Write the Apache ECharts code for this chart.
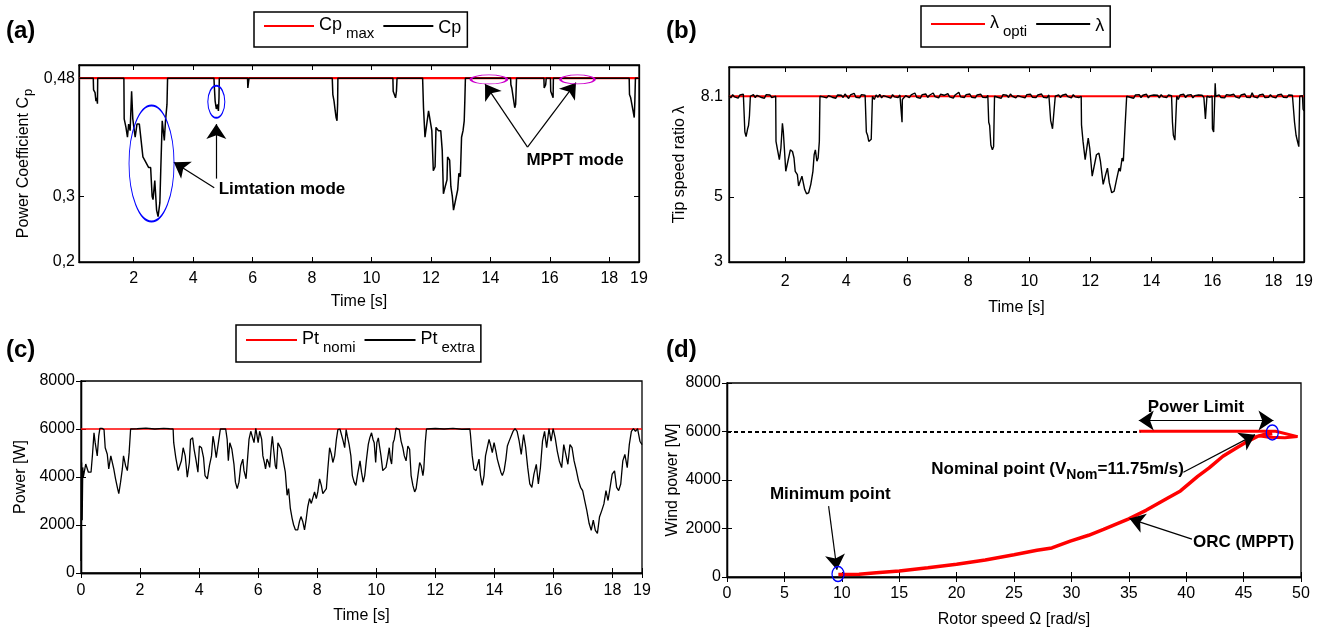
<!DOCTYPE html>
<html>
<head>
<meta charset="utf-8">
<script src="https://cdn.jsdelivr.net/npm/echarts@6/dist/echarts.min.js"></script>
<style>
html,body{margin:0;padding:0;background:#fff;}
#chart{width:1318px;height:629px;}
</style>
</head>
<body>
<div id="chart"></div>
<script>
// tick labels
const timeTicks = [2, 4, 6, 8, 10, 12, 14, 16, 18, 19];
const timeTicksC = [0, 2, 4, 6, 8, 10, 12, 14, 16, 18, 19];
const cpTicks = [0.2, 0.3, 0.48];
const lambdaTicks = [3, 5, 8.1];
const powerTicks = [0, 2000, 4000, 6000, 8000];
const omegaTicks = [0, 5, 10, 15, 20, 25, 30, 35, 40, 45, 50];

// reference levels
const cpMax = 0.48;
const lambdaOpt = 8.1;
const pNom = 6000;

// (a) power coefficient [t, Cp]
const cpData = [
  [0.16,0.48],[0.64,0.48],[0.65,0.462],[0.70,0.458],[0.73,0.445],[0.76,0.45],[0.78,0.441],[0.79,0.48],
  [1.67,0.48],[1.68,0.418],[1.74,0.405],[1.79,0.39],[1.83,0.41],[1.88,0.40],[1.93,0.46],[1.97,0.418],
  [2.02,0.40],[2.05,0.39],[2.11,0.41],[2.19,0.41],[2.25,0.41],[2.31,0.36],[2.37,0.355],[2.42,0.355],
  [2.50,0.344],[2.57,0.344],[2.62,0.30],[2.65,0.295],[2.71,0.324],[2.77,0.279],[2.82,0.269],[2.88,0.29],
  [2.91,0.339],[2.96,0.415],[3.03,0.385],[3.07,0.415],[3.12,0.44],[3.14,0.48],
  [4.70,0.48],[4.71,0.47],[4.74,0.445],[4.78,0.433],[4.82,0.44],[4.85,0.43],[4.87,0.45],[4.88,0.48],
  [5.83,0.48],[5.84,0.465],[5.87,0.468],[5.88,0.48],
  [8.68,0.48],[8.70,0.455],[8.74,0.445],[8.78,0.43],[8.81,0.42],[8.84,0.415],[8.86,0.44],[8.87,0.48],
  [10.72,0.48],[10.73,0.46],[10.77,0.455],[10.81,0.45],[10.84,0.46],[10.86,0.48],
  [11.72,0.48],[11.75,0.435],[11.80,0.39],[11.86,0.388],[11.92,0.43],[11.97,0.433],[12.03,0.40],
  [12.08,0.339],[12.14,0.345],[12.17,0.405],[12.25,0.40],[12.33,0.40],[12.38,0.37],[12.42,0.304],
  [12.48,0.315],[12.54,0.325],[12.56,0.36],[12.63,0.355],[12.67,0.315],[12.72,0.30],[12.76,0.279],
  [12.82,0.282],[12.90,0.31],[12.94,0.335],[12.99,0.33],[13.03,0.39],[13.08,0.40],[13.12,0.415],
  [13.14,0.445],[13.16,0.48],
  [14.68,0.48],[14.69,0.47],[14.72,0.465],[14.77,0.45],[14.82,0.435],[14.85,0.44],[14.88,0.48],
  [15.80,0.48],[15.81,0.465],[15.86,0.47],[15.88,0.48],
  [16.02,0.48],[16.03,0.46],[16.07,0.455],[16.11,0.45],[16.12,0.48],
  [18.67,0.48],[18.68,0.455],[18.72,0.45],[18.76,0.44],[18.80,0.43],[18.84,0.42],[18.86,0.445],
  [18.88,0.48],[19,0.48]
];

// (b) tip speed ratio [t, lambda]
const lambdaData = [
  [0.16,8.12],[0.22,8.05],[0.28,8.15],[0.34,8.08],[0.40,8.13],[0.46,8.04],[0.52,8.14],[0.58,8.09],[0.63,8.16],
  [0.67,8.1],[0.68,7.0],[0.72,6.86],[0.77,7.1],[0.80,7.2],[0.83,7.5],[0.86,8.1],
  [0.90,8.08],[0.96,8.15],[1.02,8.06],[1.08,8.13],[1.14,8.18],[1.20,8.07],[1.26,8.12],[1.32,8.04],
  [1.38,8.15],[1.44,8.09],[1.50,8.14],[1.56,8.06],[1.62,8.12],
  [1.69,8.1],[1.70,6.71],[1.75,6.45],[1.81,6.15],[1.86,6.5],[1.91,7.27],[1.94,7.01],[1.98,6.4],
  [2.02,5.79],[2.09,6.1],[2.17,6.45],[2.24,6.4],[2.29,6.2],[2.33,5.79],[2.40,5.69],[2.44,5.34],
  [2.50,5.28],[2.55,5.64],[2.60,5.59],[2.64,5.23],[2.70,5.10],[2.77,5.13],[2.84,5.39],[2.91,5.79],
  [2.95,6.3],[2.99,6.45],[3.04,6.1],[3.08,6.2],[3.12,6.71],[3.14,8.1],
  [3.18,8.16],[3.24,8.08],[3.30,8.13],[3.36,8.05],[3.42,8.12],[3.48,8.17],[3.54,8.07],[3.60,8.11],
  [3.66,8.04],[3.72,8.14],[3.78,8.09],[3.84,8.13],[3.90,8.06],[3.96,8.17],[4.02,8.1],[4.08,8.03],
  [4.14,8.14],[4.20,8.08],[4.26,8.19],[4.32,8.07],[4.38,8.12],[4.44,8.05],[4.50,8.15],[4.56,8.09],[4.62,8.13],
  [4.65,8.1],[4.66,7.0],[4.70,6.9],[4.74,6.71],[4.79,6.75],[4.82,6.78],[4.86,8.1],
  [4.92,8.0],[4.98,8.14],[5.04,8.07],[5.10,8.16],[5.16,8.05],[5.22,8.12],[5.28,8.18],[5.34,8.08],
  [5.40,8.13],[5.46,8.04],[5.52,8.15],[5.58,8.08],[5.64,8.12],[5.70,8.06],[5.76,8.14],[5.80,8.1],
  [5.82,8.1],[5.83,7.3],[5.84,8.0],
  [5.86,8.05],[5.90,7.95],[5.95,8.12],[6.01,8.18],[6.07,8.06],[6.13,8.14],[6.19,8.08],[6.25,8.2],
  [6.31,8.07],[6.37,8.13],[6.43,8.04],[6.49,8.15],[6.55,8.1],[6.61,8.17],[6.67,8.06],[6.73,8.13],
  [6.79,8.08],[6.85,8.2],[6.91,8.09],[6.97,8.14],[7.03,8.05],[7.09,8.16],[7.15,8.1],[7.21,8.13],
  [7.27,8.07],[7.33,8.18],[7.39,8.08],[7.45,8.12],[7.51,8.04],[7.57,8.14],[7.63,8.09],[7.69,8.22],
  [7.75,8.08],[7.81,8.13],[7.87,8.06],[7.93,8.15],[7.99,8.1],[8.05,8.17],[8.11,8.07],[8.17,8.12],
  [8.23,8.05],[8.29,8.14],[8.35,8.09],[8.41,8.16],[8.47,8.07],[8.53,8.12],[8.59,8.06],[8.64,8.13],
  [8.66,8.1],[8.67,7.3],[8.70,7.2],[8.74,6.6],[8.79,6.45],[8.83,6.55],[8.86,8.1],
  [8.90,8.14],[8.96,8.07],[9.02,8.12],[9.08,8.04],[9.14,8.15],[9.20,8.09],[9.26,8.13],[9.32,8.06],
  [9.38,8.17],[9.44,8.1],[9.50,8.14],[9.56,8.05],[9.62,8.12],[9.68,8.18],[9.74,8.08],[9.80,8.13],
  [9.86,8.05],[9.92,8.15],[9.98,8.09],[10.04,8.16],[10.10,8.07],[10.16,8.13],[10.22,8.06],[10.28,8.14],
  [10.34,8.08],[10.40,8.17],[10.46,8.07],[10.52,8.12],[10.58,8.05],[10.64,8.14],
  [10.69,8.1],[10.70,7.35],[10.76,7.1],[10.82,7.06],[10.85,8.1],
  [10.90,8.08],[10.96,8.14],[11.02,8.06],[11.08,8.13],[11.14,8.07],[11.20,8.16],[11.26,8.09],
  [11.32,8.13],[11.38,8.05],[11.44,8.15],[11.50,8.08],[11.56,8.12],[11.62,8.06],[11.67,8.11],
  [11.70,8.1],[11.71,7.22],[11.76,6.71],[11.83,6.15],[11.93,6.81],[11.98,6.5],[12.06,5.64],[12.11,5.69],
  [12.20,6.3],[12.28,6.35],[12.33,6.1],[12.42,5.39],[12.50,5.69],[12.56,5.89],[12.62,5.44],[12.70,5.13],
  [12.78,5.18],[12.86,5.54],[12.94,5.89],[12.98,5.79],[13.04,6.2],[13.08,6.1],[13.14,7.22],[13.19,8.1],
  [13.24,8.16],[13.30,8.07],[13.36,8.12],[13.42,8.04],[13.48,8.14],[13.54,8.09],[13.60,8.15],[13.66,8.06],
  [13.72,8.13],[13.78,8.08],[13.84,8.16],[13.90,8.05],[13.96,8.12],[14.02,8.07],[14.08,8.14],[14.14,8.09],
  [14.20,8.13],[14.26,8.05],[14.32,8.15],[14.38,8.08],[14.44,8.12],[14.50,8.06],[14.56,8.14],[14.62,8.09],[14.66,8.12],
  [14.68,8.1],[14.69,7.3],[14.72,6.9],[14.77,6.75],[14.81,6.8],[14.83,8.1],
  [14.88,8.0],[14.94,8.14],[15.00,8.08],[15.06,8.16],[15.12,8.06],[15.18,8.13],[15.24,8.09],[15.30,8.15],
  [15.36,8.05],[15.42,8.12],[15.48,8.07],[15.54,8.14],[15.60,8.09],[15.66,8.13],[15.72,8.06],
  [15.76,8.1],[15.77,7.4],[15.81,7.35],[15.82,8.1],
  [15.86,8.12],[15.92,8.07],[15.97,8.13],
  [15.99,8.1],[16.0,7.1],[16.04,7.0],[16.08,7.05],[16.09,8.5],[16.11,8.1],
  [16.16,8.08],[16.22,8.14],[16.28,8.06],[16.34,8.12],[16.40,8.05],[16.46,8.15],[16.52,8.09],[16.58,8.13],
  [16.64,8.07],[16.70,8.16],[16.76,8.08],[16.82,8.12],[16.88,8.04],[16.94,8.14],[17.00,8.09],[17.06,8.17],
  [17.12,8.07],[17.18,8.13],[17.24,8.06],[17.30,8.21],[17.36,8.08],[17.42,8.13],[17.48,8.05],[17.54,8.14],
  [17.60,8.09],[17.66,8.16],[17.72,8.06],[17.78,8.12],[17.84,8.07],[17.90,8.15],[17.96,8.08],[18.02,8.13],
  [18.08,8.05],[18.14,8.14],[18.20,8.09],[18.26,8.16],[18.32,8.07],[18.38,8.12],[18.44,8.06],[18.50,8.14],
  [18.56,8.08],[18.62,8.13],
  [18.67,8.1],[18.69,7.3],[18.74,6.9],[18.79,6.7],[18.83,6.55],[18.86,8.1],[18.90,8.16],[18.95,8.12],
  [18.97,7.7],[19,7.65]
];

// (c) extracted power [t, W]
const powerData = [
  [0,500],[0.02,4600],[0.04,2200],[0.06,4400],[0.08,4000],[0.11,4200],[0.16,4540],[0.25,4200],[0.34,4200],
  [0.39,4950],[0.44,5840],[0.48,5430],[0.55,4880],[0.60,5700],[0.64,6030],[0.71,6030],[0.78,5975],
  [0.82,5220],[0.89,4950],[0.94,4335],[1.01,4880],[1.05,4950],[1.11,4335],[1.17,3925],[1.24,3515],
  [1.28,3310],[1.34,3785],[1.40,4335],[1.44,4880],[1.51,4470],[1.57,4265],[1.63,5015],[1.68,6000],
  [1.9,6010],[2.2,6040],[2.5,6000],[2.8,6030],[3.0,6010],[3.12,6000],
  [3.14,5430],[3.21,4810],[3.29,4265],[3.34,4265],[3.40,4675],[3.46,5220],[3.53,4880],[3.60,3990],
  [3.67,4605],[3.71,5565],[3.78,5630],[3.83,5155],[3.89,4745],[3.96,4200],[4.01,5290],[4.08,5220],
  [4.15,4810],[4.20,4060],[4.28,3925],[4.35,4470],[4.42,4880],[4.47,5700],[4.51,5430],[4.58,4810],
  [4.63,4745],[4.67,5565],[4.72,6000],[4.81,6000],[4.90,6000],[4.95,5565],[4.99,4675],[5.04,5430],
  [5.11,5155],[5.18,4540],[5.23,3785],[5.29,3515],[5.35,3785],[5.41,4470],[5.48,4745],[5.52,4265],
  [5.59,3925],[5.64,4745],[5.69,5565],[5.75,5905],[5.81,5840],[5.86,5430],[5.92,6030],[5.96,5975],
  [6.00,5430],[6.05,5905],[6.09,5975],[6.12,5565],[6.16,4880],[6.21,4605],[6.25,4335],[6.30,4745],
  [6.35,4605],[6.39,4400],[6.44,5220],[6.48,5700],[6.53,5085],[6.58,4470],[6.62,4335],[6.67,5430],
  [6.72,5430],[6.78,5155],[6.84,4745],
  [6.92,4200],[6.98,3240],[7.03,3515],[7.09,2690],[7.15,2280],[7.20,2010],[7.26,1800],[7.34,1800],
  [7.40,2150],[7.45,2350],[7.51,2150],[7.57,1800],[7.63,2280],[7.68,2760],[7.74,3100],[7.80,2900],
  [7.85,2900],[7.91,3380],[7.97,3100],[8.02,3380],[8.08,3925],[8.14,3650],[8.19,3310],[8.25,3310],
  [8.31,3515],[8.36,4335],[8.42,5220],[8.48,4950],[8.53,4605],[8.59,4880],[8.65,5565],[8.70,5975],
  [8.77,6000],[8.82,6040],[8.88,5495],[8.93,5220],[8.98,5975],[9.02,5700],[9.08,5360],[9.14,4880],
  [9.19,4060],[9.25,3785],[9.31,3650],[9.36,4060],[9.42,4470],[9.45,4675],[9.50,4200],[9.56,3785],
  [9.61,4060],[9.67,4745],[9.73,5360],[9.78,5630],[9.84,5840],[9.89,5565],[9.93,5430],[9.98,4605],
  [10.02,5430],[10.07,5630],[10.11,5290],[10.16,4880],[10.22,4265],[10.27,4200],[10.33,4400],
  [10.39,4810],[10.44,5220],[10.48,4745],[10.52,4540],[10.57,5430],[10.61,5565],[10.67,6040],
  [10.73,6000],[10.78,5975],[10.84,5495],[10.90,5220],[10.95,4880],[11.01,4675],[11.07,5290],
  [11.13,5155],[11.18,4060],[11.24,3650],[11.30,3380],[11.35,3515],[11.41,4060],[11.47,4605],
  [11.52,4470],[11.58,4060],[11.61,4335],[11.66,5430],[11.70,6000],
  [12.0,6020],[12.3,6000],[12.6,6030],[12.9,5990],[13.17,6000],
  [13.19,5770],[13.25,4880],[13.31,4335],[13.38,4265],[13.42,4265],[13.48,4745],[13.53,4060],
  [13.59,3650],[13.65,4060],[13.70,4880],[13.76,5220],[13.82,5565],[13.88,5290],[13.93,5015],
  [13.99,5430],[14.05,5085],[14.10,4745],[14.16,4470],[14.22,4200],[14.27,4060],[14.33,4265],
  [14.39,4745],[14.44,5290],[14.50,5495],
  [14.63,5900],[14.70,6020],[14.77,5900],[14.84,5490],[14.91,4940],[14.99,5770],[15.06,5220],
  [15.13,4390],[15.20,3710],[15.27,3570],[15.34,4120],[15.42,4530],[15.49,3710],[15.56,4390],
  [15.63,5490],[15.70,5900],[15.77,5220],[15.85,6020],[15.92,5490],[15.99,6020],[16.06,5630],
  [16.13,5080],[16.20,4670],[16.28,4390],[16.35,5350],[16.42,4940],[16.49,4530],[16.56,5350],
  [16.63,5220],[16.70,4670],[16.78,4260],[16.85,3840],[16.92,3570],[16.99,3430],[17.06,3020],
  [17.13,2610],[17.21,2060],[17.28,1780],[17.35,2200],[17.42,1780],[17.49,1650],[17.56,2330],
  [17.64,2610],[17.71,2880],[17.78,3430],[17.85,3020],[17.92,3570],[17.99,4120],[18.07,4260],
  [18.14,3570],[18.21,3430],[18.28,3710],[18.35,4670],[18.42,4940],[18.50,4390],[18.57,5350],
  [18.64,5900],[18.71,6020],[18.78,5900],[18.85,6020],[18.93,5490],[19.0,5350]
];

// (d) wind power vs rotor speed [omega, W]
const orcData = [
  [9.7,100],[11.5,110],[13,180],[15,250],[17.5,380],[20,530],[22.5,700],[25,920],[27,1100],
  [28.3,1200],[29.9,1480],[31.5,1720],[32.8,1960],[34,2200],[35,2400],[36.5,2750],[38.4,3260],
  [39.5,3550],[41,4150],[42,4500],[43.2,4980],[44.3,5300],[45.1,5530],[46.2,5800],[47.3,5940]
];
const limitData = [
  [35.9,6010],[47.8,6010],[49.7,5790],[48.6,5740],[47.2,5760],[46.3,5820],[47.5,5900]
];

const font = "'Liberation Sans', Arial, sans-serif";

const grids = [
  {left: 79, top: 65, width: 560, height: 197},
  {left: 729, top: 67, width: 575, height: 195},
  {left: 81, top: 381, width: 561, height: 192},
  {left: 727, top: 383, width: 574, height: 195}
];

function axisPair(dir, gi, min, max, ticks, name, nameGap, margin, fmt, nameRich) {
  const base = {
    type: 'value', gridIndex: gi, min: min, max: max,
    splitLine: {show: false},
    axisLine: {lineStyle: {color: '#000', width: 1.3}},
    axisTick: {inside: true, length: 5, customValues: ticks, lineStyle: {color: '#000', width: 1}}
  };
  const main = Object.assign({}, base, {
    position: dir === 'x' ? 'bottom' : 'left',
    name: name, nameLocation: 'middle', nameGap: nameGap,
    nameTextStyle: {fontSize: 16, fontFamily: font, color: '#000', rich: nameRich || {}},
    axisLabel: {customValues: ticks, fontSize: 16, fontFamily: font, color: '#000', margin: margin,
      formatter: fmt || (v => String(v))}
  });
  const other = Object.assign({}, base, {
    position: dir === 'x' ? 'top' : 'right',
    axisLabel: {show: false}
  });
  return [main, other];
}

const subRich = {
  n: {fontSize: 16, fontFamily: font, color: '#000'},
  s: {fontSize: 13, fontFamily: font, color: '#000', padding: [9, 0, 0, 1]}
};

const xAxis = [].concat(
  axisPair('x', 0, 0.16, 19, timeTicks, 'Time [s]', 32, 9),
  axisPair('x', 1, 0.16, 19, timeTicks, 'Time [s]', 38, 12),
  axisPair('x', 2, 0, 19, timeTicksC, 'Time [s]', 35, 10),
  axisPair('x', 3, 0, 50, omegaTicks, 'Rotor speed Ω [rad/s]', 35, 9)
);
const yAxis = [].concat(
  axisPair('y', 0, 0.2, 0.5, cpTicks, '{n|Power Coefficient C}{s|p}', 44, 4,
    v => String(v).replace('.', ','), subRich),
  axisPair('y', 1, 3, 9, lambdaTicks, 'Tip speed ratio λ', 41, 6),
  axisPair('y', 2, 0, 8000, powerTicks, 'Power [W]', 52, 6),
  axisPair('y', 3, 0, 8000, powerTicks, 'Wind power [W]', 46, 6)
);

const legendNames = {
  Cpmax: '{n|Cp}{s|max}', Cp: '{n|Cp}',
  lopt: '{n|λ}{s|opti}', l: '{n|λ}',
  Ptnomi: '{n|Pt}{s|nomi}', Ptextra: '{n|Pt}{s|extra}'
};
function legendAt(names, left, top, itemWidth, pad) {
  return {
    data: names, left: left, top: top, orient: 'horizontal',
    icon: 'rect', itemWidth: itemWidth, itemHeight: 2, itemGap: 9,
    padding: pad, borderColor: '#000', borderWidth: 1.5,
    selectedMode: false,
    formatter: n => legendNames[n],
    textStyle: {
      color: '#000', fontFamily: font,
      rich: {
        n: {fontSize: 18, fontFamily: font, color: '#000', verticalAlign: 'top', padding: [5, 0, 0, 0]},
        s: {fontSize: 15, fontFamily: font, color: '#000', verticalAlign: 'top', padding: [15, 0, 0, 4]}
      }
    }
  };
}

const clear = 'rgba(0,0,0,0)';
function ring(coord, size, color) {
  return {coord: coord, symbol: 'circle', symbolSize: size,
    itemStyle: {color: clear, borderColor: color, borderWidth: 1.4}, label: {show: false}};
}
function note(coord, text, size) {
  return {coord: coord, symbol: 'rect', symbolSize: 1, itemStyle: {color: clear},
    label: {show: true, position: 'inside', formatter: text, fontSize: size || 17,
      fontWeight: 'bold', fontFamily: font, color: '#000',
      rich: {
        b: {fontSize: 17, fontWeight: 'bold', fontFamily: font, color: '#000'},
        sub: {fontSize: 14, fontWeight: 'bold', fontFamily: font, color: '#000', padding: [12, 0, 0, 0]}
      }}};
}
function arrow(from, to, both) {
  return [{coord: from, symbol: both ? 'arrow' : 'none'}, {coord: to, symbol: 'arrow'}];
}

const series = [
  {name: 'Cpmax', type: 'line', xAxisIndex: 0, yAxisIndex: 0, symbol: 'none', silent: true,
    data: [[0.16, cpMax], [19, cpMax]], lineStyle: {color: '#ff0000', width: 2.2}, itemStyle: {color: '#ff0000'}},
  {name: 'Cp', type: 'line', xAxisIndex: 0, yAxisIndex: 0, symbol: 'none', silent: true,
    data: cpData, lineStyle: {color: '#000', width: 1.5}, itemStyle: {color: '#000'},
    markPoint: {silent: true, animation: false, data: [
      ring([2.6, 0.35], [45, 116], '#0000ff'),
      ring([4.78, 0.444], [17, 32], '#0000ff'),
      ring([13.95, 0.478], [36, 9], '#cc00cc'),
      ring([16.93, 0.478], [34, 9], '#cc00cc'),
      note([6.99, 0.311], 'Limtation mode'),
      note([16.85, 0.355], 'MPPT mode')
    ]},
    markLine: {silent: true, animation: false, symbolSize: 15, label: {show: false},
      lineStyle: {color: '#000', width: 1.2, type: 'solid'},
      data: [
        arrow([4.71, 0.313], [3.35, 0.352]),
        arrow([4.78, 0.327], [4.78, 0.41]),
        arrow([15.25, 0.375], [13.82, 0.471]),
        arrow([15.25, 0.375], [16.88, 0.473])
      ]}
  },
  {name: 'lopt', type: 'line', xAxisIndex: 2, yAxisIndex: 2, symbol: 'none', silent: true,
    data: [[0.16, lambdaOpt], [19, lambdaOpt]], lineStyle: {color: '#ff0000', width: 2}, itemStyle: {color: '#ff0000'}},
  {name: 'l', type: 'line', xAxisIndex: 2, yAxisIndex: 2, symbol: 'none', silent: true,
    data: lambdaData, lineStyle: {color: '#000', width: 1.4}, itemStyle: {color: '#000'}},
  {name: 'Ptnomi', type: 'line', xAxisIndex: 4, yAxisIndex: 4, symbol: 'none', silent: true,
    data: [[0, pNom], [19, pNom]], lineStyle: {color: '#ff0000', width: 1.6}, itemStyle: {color: '#ff0000'}},
  {name: 'Ptextra', type: 'line', xAxisIndex: 4, yAxisIndex: 4, symbol: 'none', silent: true,
    data: powerData, lineStyle: {color: '#000', width: 1.3}, itemStyle: {color: '#000'}},
  {name: 'limit', type: 'line', xAxisIndex: 6, yAxisIndex: 6, symbol: 'none', silent: true,
    data: limitData, lineStyle: {color: '#ff0000', width: 3}},
  {name: 'orc', type: 'line', xAxisIndex: 6, yAxisIndex: 6, symbol: 'none', silent: true,
    data: orcData, lineStyle: {color: '#ff0000', width: 3.5},
    markPoint: {silent: true, animation: false, data: [
      ring([47.5, 5960], [12, 15], '#0000ff'),
      ring([9.67, 120], [12, 15], '#0000ff'),
      note([40.85, 7015], 'Power Limit'),
      note([9.0, 3405], 'Minimum point'),
      note([28.8, 4430], '{b|Nominal point (V}{sub|Nom}{b|=11.75m/s)}'),
      note([45.0, 1450], 'ORC (MPPT)')
    ]},
    markLine: {silent: true, animation: false, symbolSize: 15, label: {show: false},
      lineStyle: {color: '#000', width: 1.2, type: 'solid'},
      data: [
        [{coord: [0, pNom], symbol: 'none', lineStyle: {type: [4, 3], width: 2, color: '#000'}},
         {coord: [36, pNom], symbol: 'none'}],
        [{coord: [35.87, 6455], symbol: 'arrow', lineStyle: {color: '#000', width: 1}},
         {coord: [47.6, 6455], symbol: 'arrow'}],
        arrow([8.85, 2925], [9.58, 300]),
        arrow([39.75, 4320], [46.0, 5870]),
        arrow([40.5, 1560], [35.06, 2408])
      ]}
  }
];

const titleStyle = {fontSize: 24, fontWeight: 'bold', fontFamily: font, color: '#000'};
const option = {
  animation: false,
  backgroundColor: '#fff',
  title: [
    {text: '(a)', left: 6, top: 19, textStyle: titleStyle, padding: 0},
    {text: '(b)', left: 666, top: 19, textStyle: titleStyle, padding: 0},
    {text: '(c)', left: 6, top: 338, textStyle: titleStyle, padding: 0},
    {text: '(d)', left: 666, top: 338, textStyle: titleStyle, padding: 0}
  ],
  legend: [
    legendAt(['Cpmax', 'Cp'], 254, 12, 50, [4, 6, 6, 10]),
    legendAt(['lopt', 'l'], 921, 6, 54, [8, 6, 8, 10]),
    legendAt(['Ptnomi', 'Ptextra'], 236, 325, 51, [5, 6, 7, 10])
  ],
  grid: grids.map(g => Object.assign({show: true, borderColor: '#000', borderWidth: 1.3, containLabel: false}, g)),
  xAxis: xAxis,
  yAxis: yAxis,
  series: series
};

const chart = echarts.init(document.getElementById('chart'), null, {renderer: 'canvas'});
chart.setOption(option);
</script>
</body>
</html>
